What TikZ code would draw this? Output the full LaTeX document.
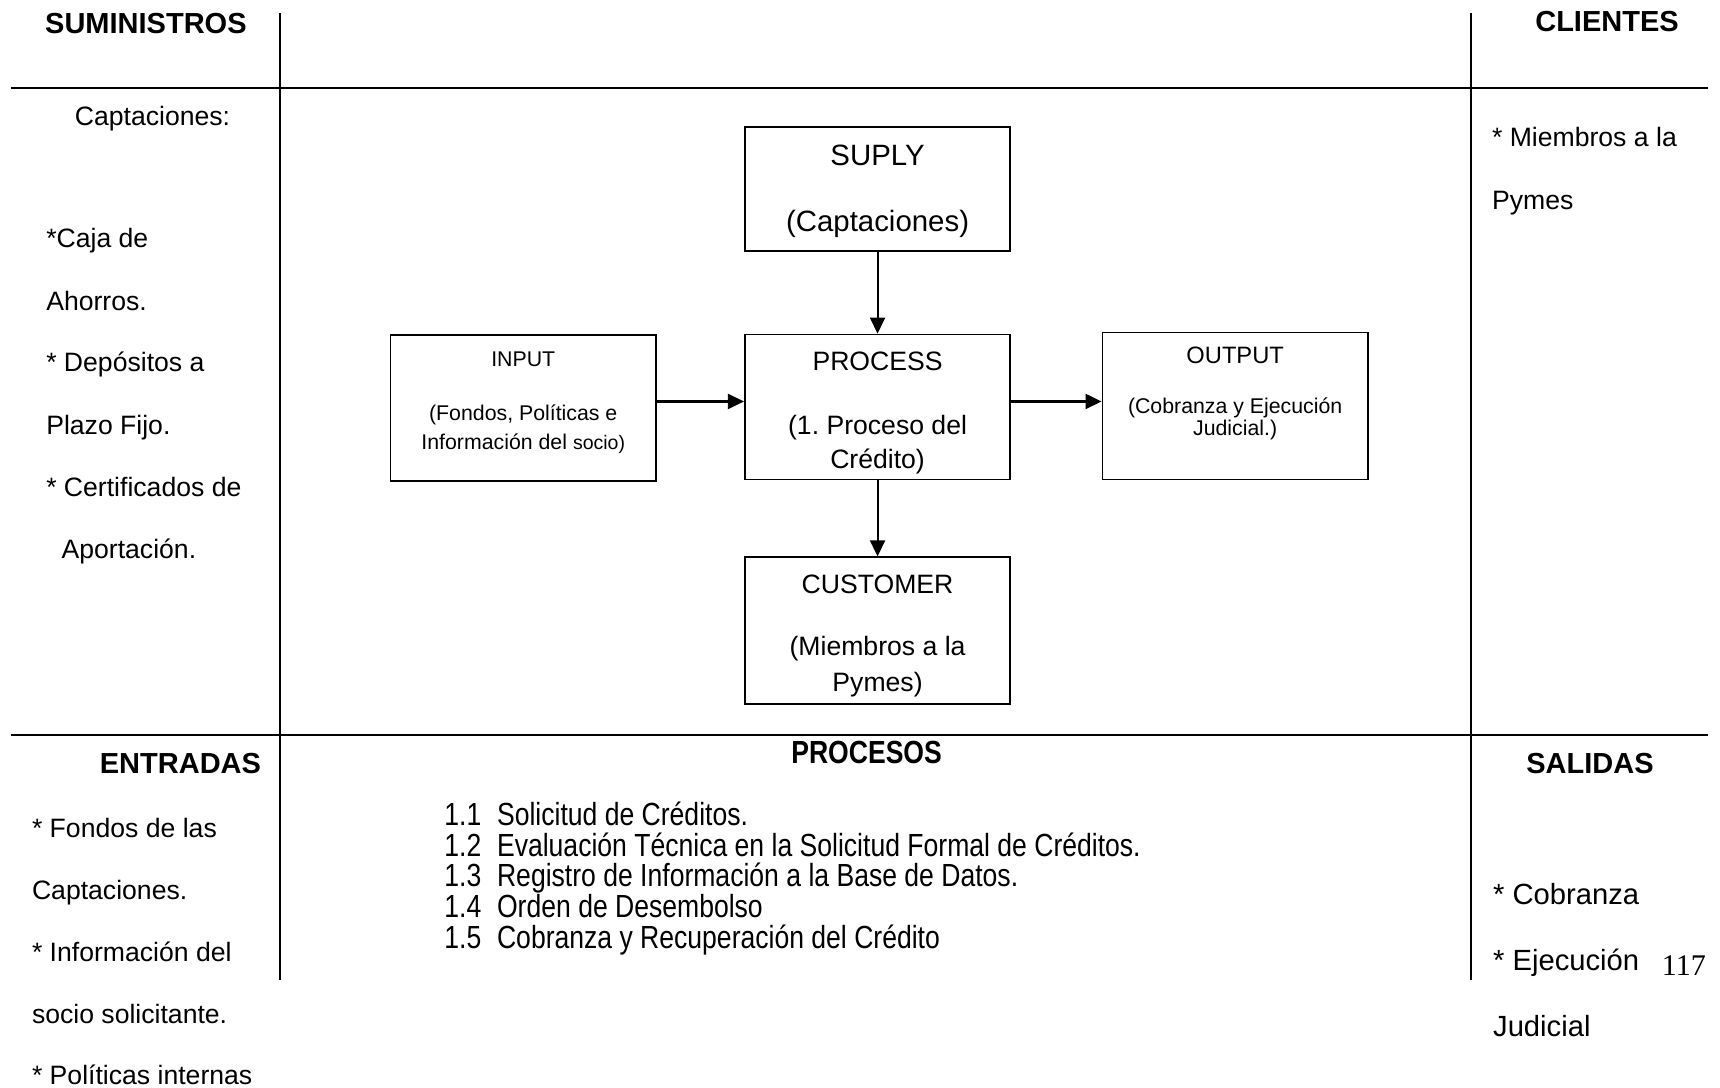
\documentclass[tikz,border=0pt]{standalone}
\usepackage{fontspec}
\setmainfont{Liberation Sans}
\newfontfamily\narrowsans[FakeStretch=0.83]{Liberation Sans}
\newfontfamily\pagenumfont{Liberation Serif}
\usetikzlibrary{arrows.meta}
\frenchspacing

% font sizes used in the chart
\newcommand\headfont{\fontsize{29pt}{34pt}\selectfont\bfseries}
\newcommand\colfont{\fontsize{26.6pt}{32pt}\selectfont}
\newcommand\outfont{\fontsize{29.2pt}{34pt}\selectfont}
\newcommand\suplyfont{\fontsize{29.4pt}{34pt}\selectfont}
\newcommand\bigboxfont{\fontsize{26.6pt}{32pt}\selectfont}
\newcommand\smallboxfont{\fontsize{21.3pt}{26pt}\selectfont}
\newcommand\listfont{\narrowsans\fontsize{32pt}{36pt}\selectfont}

\tikzset{
  rule/.style={line width=1.8pt},
  box/.style={draw, line width=1.7pt, inner sep=0pt, minimum width=265.5pt},
  flow/.style={line width=2.1pt, -{Triangle[length=16pt,width=15pt]}},
  txt/.style={inner sep=0pt},
  btxt/.style={inner sep=0pt, anchor=base},
  ltxt/.style={inner sep=0pt, anchor=base west},
}

\begin{document}
\begin{tikzpicture}[x=1.0969pt,y=-1.0969pt]
\useasboundingbox (0,0) rectangle (1568,991);

% grid of the chart
\coordinate (hl1) at (10,80);   \coordinate (hr1) at (1557,80);
\coordinate (hl2) at (10,670);  \coordinate (hr2) at (1557,670);
\coordinate (vlt) at (255,12);  \coordinate (vlb) at (255,893);
\coordinate (vrt) at (1341,12); \coordinate (vrb) at (1341,893);
\draw[rule] (hl1) -- (hr1);
\draw[rule] (hl2) -- (hr2);
\draw[rule] (vlt) -- (vlb);
\draw[rule] (vrt) -- (vrb);

% section headings
\node[txt, font=\headfont] (hsum) at (133,21) {SUMINISTROS};
\node[txt, font=\headfont] (hcli) at (1465,20) {CLIENTES};
\node[txt, font=\headfont] (hent) at (164.5,696) {ENTRADAS};
\node[txt, font=\headfont] (hsal) at (1449.5,696) {SALIDAS};
\node[txt, font=\listfont\bfseries] (hpro) at (790,686) {PROCESOS};

% suppliers
\node[btxt, font=\colfont] (s0) at (139,114.7) {Captaciones:};
\node[ltxt, font=\colfont] (s1) at (42,225.7) {*Caja de};
\node[ltxt, font=\colfont] (s2) at (42,282.7) {Ahorros.};
\node[ltxt, font=\colfont] (s3) at (42,338.7) {* Depósitos a};
\node[ltxt, font=\colfont] (s4) at (42,395.7) {Plazo Fijo.};
\node[ltxt, font=\colfont] (s5) at (42,452.7) {* Certificados de};
\node[ltxt, font=\colfont] (s6) at (56,508.7) {Aportación.};

% clients
\node[ltxt, font=\colfont] (c1) at (1360,133.7) {* Miembros a la};
\node[ltxt, font=\colfont] (c2) at (1360,190.7) {Pymes};

% inputs
\node[ltxt, font=\colfont] (e1) at (29,763.7) {* Fondos de las};
\node[ltxt, font=\colfont] (e2) at (29,819.7) {Captaciones.};
\node[ltxt, font=\colfont] (e3) at (29,876.7) {* Información del};
\node[ltxt, font=\colfont] (e4) at (29,932.7) {socio solicitante.};
\node[ltxt, font=\colfont] (e5) at (29,988.7) {* Políticas internas};

% process steps
\node[ltxt, font=\listfont] (p1) at (405,752.4) {\makebox[52.6pt][l]{1.1}Solicitud de Créditos.};
\node[ltxt, font=\listfont] (p2) at (405,780.4) {\makebox[52.6pt][l]{1.2}Evaluación Técnica en la Solicitud Formal de Créditos.};
\node[ltxt, font=\listfont] (p3) at (405,808.4) {\makebox[52.6pt][l]{1.3}Registro de Información a la Base de Datos.};
\node[ltxt, font=\listfont] (p4) at (405,836.4) {\makebox[52.6pt][l]{1.4}Orden de Desembolso};
\node[ltxt, font=\listfont] (p5) at (405,864.4) {\makebox[52.6pt][l]{1.5}Cobranza y Recuperación del Crédito};

% outputs
\node[ltxt, font=\outfont] (o1) at (1361,824.5) {* Cobranza};
\node[ltxt, font=\outfont] (o2) at (1361,884.5) {* Ejecución};
\node[ltxt, font=\outfont] (o3) at (1361,944.5) {Judicial};

% page number
\node[txt, font=\pagenumfont\fontsize{30pt}{34pt}\selectfont] (pg) at (1535,880) {117};

% SIPOC boxes
\node[box, minimum height=124pt] (suply) at (800,172.5) {};
\node[box, minimum height=146pt] (input) at (477,372) {};
\node[box, minimum height=145pt] (proc) at (800,371) {};
\node[box, minimum height=147pt] (output) at (1126,370) {};
\node[box, minimum height=147pt] (cust) at (800,575) {};

\node[btxt, font=\suplyfont] (suply1) at (800,150.6) {SUPLY};
\node[btxt, font=\suplyfont] (suply2) at (800,210.6) {(Captaciones)};

\node[btxt, font=\smallboxfont] (input1) at (477,334) {INPUT};
\node[btxt, font=\smallboxfont] (input2) at (477,383) {(Fondos, Políticas e};
\node[btxt, font=\smallboxfont] (input3) at (477,410) {Información del {\fontsize{19.5pt}{24pt}\selectfont socio)}};

\node[btxt, font=\bigboxfont] (proc1) at (800,337.7) {PROCESS};
\node[btxt, font=\bigboxfont] (proc2) at (800,395.7) {(1. Proceso del};
\node[btxt, font=\bigboxfont] (proc3) at (800,426.7) {Crédito)};

\node[btxt, font=\fontsize{23.7pt}{28pt}\selectfont] (output1) at (1126,331.8) {OUTPUT};
\node[btxt, font=\smallboxfont] (output2) at (1126,377) {(Cobranza y Ejecución};
\node[btxt, font=\smallboxfont] (output3) at (1126,397) {Judicial.)};

\node[btxt, font=\bigboxfont] (cust1) at (800,540.7) {CUSTOMER};
\node[btxt, font=\bigboxfont] (cust2) at (800,597.7) {(Miembros a la};
\node[btxt, font=\bigboxfont] (cust3) at (800,630.7) {Pymes)};

% flow between boxes
\draw[flow] (suply.south) -- (proc.north);
\draw[flow] ([yshift=5.5pt]input.east |- proc.west) -- ([yshift=5.5pt]proc.west);
\draw[flow] ([yshift=5.5pt]proc.east) -- ([yshift=5.5pt]output.west |- proc.east);
\draw[flow] (proc.south) -- (cust.north);
\end{tikzpicture}
\end{document}
